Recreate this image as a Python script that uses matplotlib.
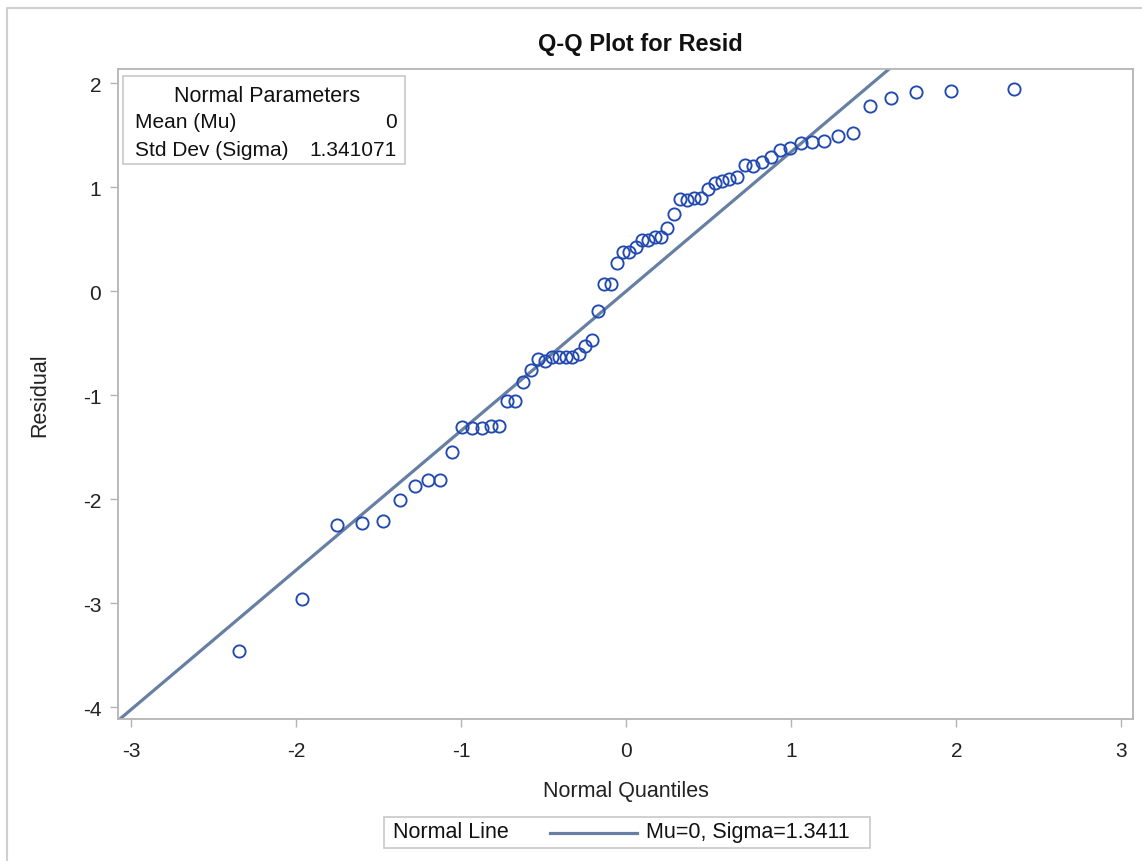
import matplotlib
matplotlib.use('Agg')
import matplotlib.pyplot as plt
from matplotlib.patches import Rectangle
from matplotlib.lines import Line2D

plt.rcParams['font.family'] = ['Liberation Sans', 'DejaVu Sans']

# normal quantiles (x) and sorted residuals (y)
quantiles = [-2.349, -1.968, -1.755, -1.601, -1.477, -1.373, -1.282, -1.200,
             -1.126, -1.057, -0.993, -0.933, -0.876, -0.822, -0.770, -0.720,
             -0.672, -0.625, -0.580, -0.535, -0.492, -0.450, -0.408, -0.368,
             -0.327, -0.288, -0.248, -0.210, -0.171, -0.133, -0.095, -0.057,
             -0.019, 0.019, 0.057, 0.095, 0.133, 0.171, 0.210, 0.248,
             0.288, 0.327, 0.368, 0.408, 0.450, 0.492, 0.535, 0.580,
             0.625, 0.672, 0.720, 0.770, 0.822, 0.876, 0.933, 0.993,
             1.057, 1.126, 1.200, 1.282, 1.373, 1.477, 1.601, 1.755,
             1.968, 2.349]
resid = [-3.46, -2.96, -2.25, -2.23, -2.21, -2.01, -1.87, -1.82,
         -1.82, -1.545, -1.31, -1.32, -1.32, -1.30, -1.30, -1.055,
         -1.055, -0.87, -0.76, -0.655, -0.67, -0.63, -0.63, -0.63,
         -0.63, -0.61, -0.525, -0.47, -0.19, 0.065, 0.065, 0.27,
         0.38, 0.38, 0.42, 0.49, 0.49, 0.52, 0.52, 0.61,
         0.74, 0.885, 0.88, 0.89, 0.89, 0.98, 1.035, 1.06,
         1.08, 1.10, 1.21, 1.20, 1.24, 1.285, 1.36, 1.38,
         1.42, 1.43, 1.445, 1.49, 1.52, 1.775, 1.855, 1.91,
         1.925, 1.94]

mu = 0
sigma = 1.341071
xticks = [-3, -2, -1, 0, 1, 2, 3]
yticks = [-4, -3, -2, -1, 0, 1, 2]

W, H = 1142, 862
fig = plt.figure(figsize=(W / 100, H / 100), dpi=100)


def fx(px):
    return px / W


def fy(py):
    return 1 - py / H


ax = fig.add_axes([fx(118), fy(720), fx(1133) - fx(118), fy(70) - fy(720)])
xlim = (-3.08, 3.07)
ax.set_xlim(*xlim)
ax.set_ylim(-4.115, 2.135)

# normal reference line
ax.plot(xlim, [mu + sigma * xlim[0], mu + sigma * xlim[1]], color='#667fa2', lw=2.3, zorder=2)
ax.plot(quantiles, resid, 'o', mfc='none', mec='#2149b0', ms=8.8, mew=1.35, zorder=3)

ax.set_xticks(xticks)
ax.set_yticks(yticks)
ax.set_xticklabels([str(t) for t in xticks])
ax.set_yticklabels([str(t) for t in yticks])
for s in ax.spines.values():
    s.set_color('#b4b4b4')
    s.set_linewidth(1.3)
ax.tick_params(direction='out', length=6, width=1, color='#b4b4b4',
               labelsize=15, labelcolor='#222222', pad=6)
ax.tick_params(axis='x', pad=10)

fig.text(fx(640), fy(44), 'Q-Q Plot for Resid', ha='center', va='center',
         fontsize=17, fontweight='bold', color='#111111')
fig.text(fx(40), fy(395), 'Residual', ha='center', va='center', rotation=90,
         fontsize=15.5, color='#222222')
fig.text(fx(626), fy(792), 'Normal Quantiles', ha='center', va='center',
         fontsize=15.5, color='#222222')

# inset table
fig.patches.append(Rectangle((fx(123), fy(165)), fx(405) - fx(123), fy(77) - fy(165),
                             transform=fig.transFigure, fill=False, ec='#c8c8c8', lw=1.2))
fig.text(fx(267), fy(96), 'Normal Parameters', ha='center', va='center', fontsize=15.5, color='#111111')
fig.text(fx(135), fy(123), 'Mean (Mu)', ha='left', va='center', fontsize=15, color='#111111')
fig.text(fx(397), fy(123), '%g' % mu, ha='right', va='center', fontsize=15, color='#111111')
fig.text(fx(135), fy(150), 'Std Dev (Sigma)', ha='left', va='center', fontsize=15, color='#111111')
fig.text(fx(397), fy(150), '%.6f' % sigma, ha='right', va='center', fontsize=15, color='#111111')

# legend
fig.patches.append(Rectangle((fx(384), fy(849)), fx(870) - fx(384), fy(818) - fy(849),
                             transform=fig.transFigure, fill=False, ec='#c8c8c8', lw=1.2))
fig.text(fx(393), fy(833), 'Normal Line', ha='left', va='center', fontsize=15.5, color='#111111')
fig.lines.append(Line2D([fx(550), fx(637)], [fy(834), fy(834)], transform=fig.transFigure,
                        color='#667fa2', lw=2.3))
fig.text(fx(646), fy(833), 'Mu=%g, Sigma=%.4f' % (mu, sigma), ha='left', va='center',
         fontsize=15.5, color='#111111')

# outer frame
fig.lines.append(Line2D([fx(7), fx(7), fx(1142)], [fy(862), fy(9), fy(9)],
                        transform=fig.transFigure, color='#d0d0d0', lw=1.5))

fig.savefig('out.png', dpi=100)
